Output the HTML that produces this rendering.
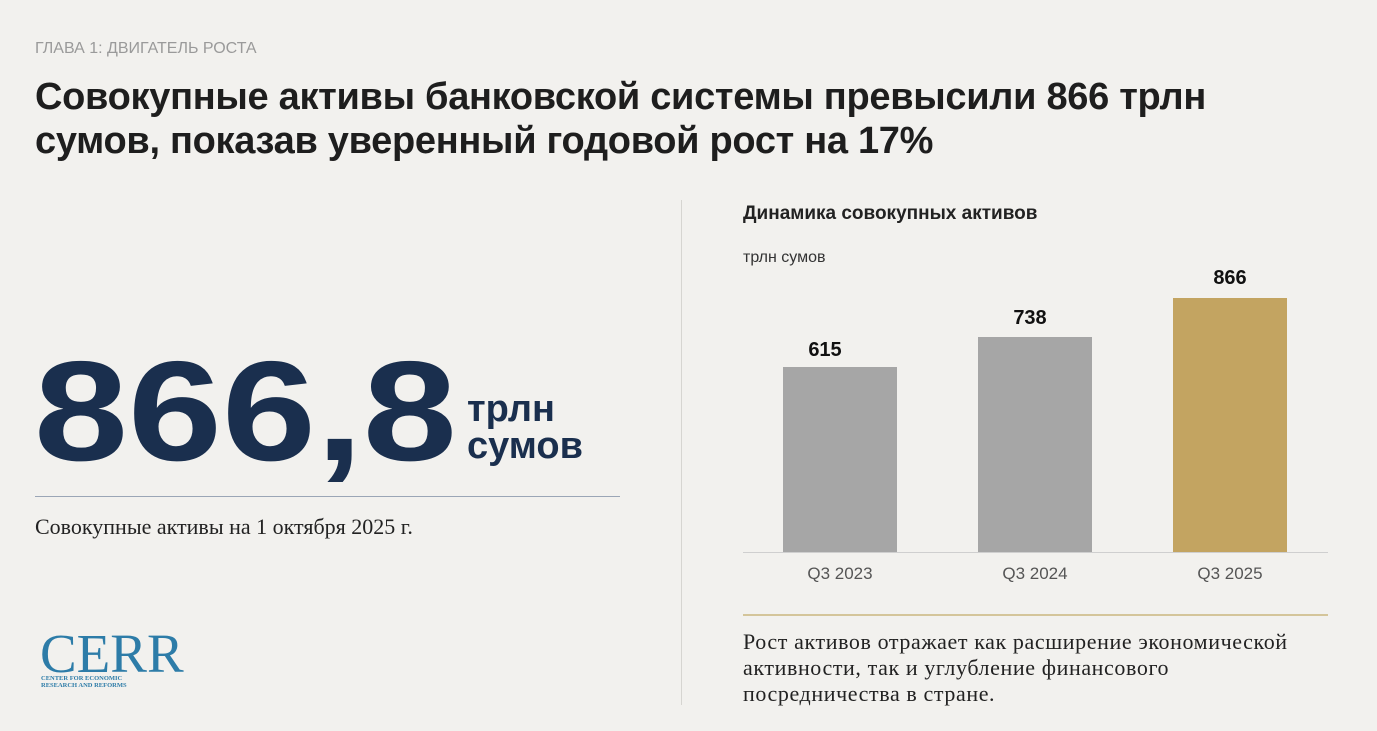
<!DOCTYPE html>
<html><head><meta charset="utf-8"><style>
body{margin:0;width:1377px;height:731px;background:#f2f1ee;position:relative;overflow:hidden;font-family:"Liberation Sans",sans-serif}
.a{position:absolute;white-space:nowrap}
.bar{position:absolute;width:114px}
.v{position:absolute;width:114px;text-align:center;font:bold 20px "Liberation Sans",sans-serif;color:#111}
.x{position:absolute;width:114px;text-align:center;font-size:17px;color:#555;top:564px}
</style></head><body>
<div class="a" style="left:35px;top:40px;font-size:16px;color:#9a9a9a">ГЛАВА 1: ДВИГАТЕЛЬ РОСТА</div>
<div class="a" style="left:35px;top:75px;font-size:38px;font-weight:bold;color:#1e1e1e;line-height:44px;letter-spacing:-0.3px">Совокупные активы банковской системы превысили 866 трлн<br>сумов, показав уверенный годовой рост на 17%</div>
<div class="a" style="left:34px;top:332px;font-size:142px;font-weight:bold;color:#1a2f4e;line-height:160px;transform:scaleX(1.19);transform-origin:0 0">866,8</div>
<div class="a" style="left:467px;top:391px;font-size:38px;font-weight:bold;color:#1a2f4e;line-height:37px">трлн<br>сумов</div>
<div class="a" style="left:35px;top:496px;width:585px;height:1px;background:#9ba6b6"></div>
<div class="a" style="left:35px;top:514px;font:22px 'Liberation Serif',serif;color:#222">Совокупные активы на 1 октября 2025 г.</div>
<div class="a" style="left:40px;top:626px;font:55px 'Liberation Serif',serif;color:#2d7ca8;line-height:55px">CERR</div>
<div class="a" style="left:41px;top:675px;font:bold 6.5px 'Liberation Serif',serif;color:#2d7ca8;line-height:7px">CENTER FOR ECONOMIC<br>RESEARCH AND REFORMS</div>
<div class="a" style="left:681px;top:200px;width:1px;height:505px;background:#d6d5d1"></div>
<div class="a" style="left:743px;top:203px;font-size:19px;font-weight:bold;color:#222">Динамика совокупных активов</div>
<div class="a" style="left:743px;top:249px;font-size:16px;color:#333">трлн сумов</div>
<div class="bar" style="left:783px;top:367px;height:185px;background:#a6a6a6"></div>
<div class="bar" style="left:978px;top:337px;height:215px;background:#a6a6a6"></div>
<div class="bar" style="left:1173px;top:298px;height:254px;background:#c3a461"></div>
<div class="v" style="left:768px;top:339px">615</div>
<div class="v" style="left:973px;top:307px">738</div>
<div class="v" style="left:1173px;top:267px">866</div>
<div class="a" style="left:743px;top:552px;width:585px;height:1px;background:#cfcfcf"></div>
<div class="x" style="left:783px">Q3 2023</div>
<div class="x" style="left:978px">Q3 2024</div>
<div class="x" style="left:1173px">Q3 2025</div>
<div class="a" style="left:743px;top:614px;width:585px;height:2px;background:#d4c59a"></div>
<div class="a" style="left:743px;top:629px;font:22px 'Liberation Serif',serif;color:#222;line-height:26px;letter-spacing:0.6px">Рост активов отражает как расширение экономической<br>активности, так и углубление финансового<br>посредничества в стране.</div>
</body></html>
